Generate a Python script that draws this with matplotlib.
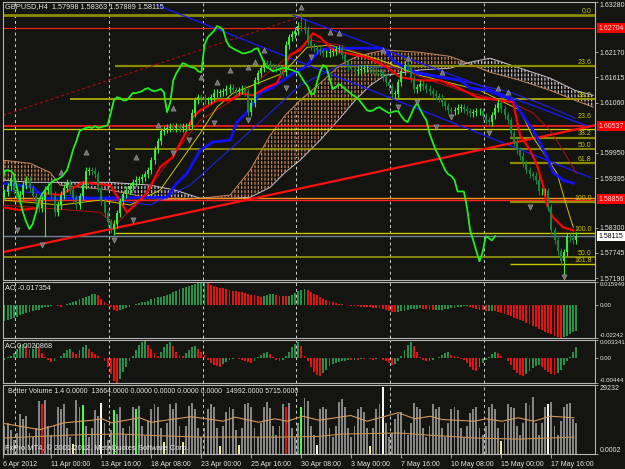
import numpy as np
import matplotlib
matplotlib.use("Agg")
import matplotlib.pyplot as plt
import matplotlib.transforms as mtransforms

plt.rcParams['font.family'] = ['Liberation Sans', 'DejaVu Sans']
plt.rcParams['hatch.linewidth'] = 0.9

# ---------------- data ----------------
title_text = "GBPUSD,H4  1.57998 1.58363 1.57889 1.58115"
first_open = 1.5902
wick = 0.0008
close = [
    1.5908, 1.5921, 1.5939, 1.5913, 1.5895, 1.5902, 1.5924, 1.5935, 1.5917, 1.5899,
    1.5884, 1.5873, 1.5891, 1.5913, 1.5921, 1.5902, 1.5864, 1.5880, 1.5902, 1.5917,
    1.5930, 1.5913, 1.5895, 1.5880, 1.5899, 1.5924,
    1.5955, 1.5957, 1.5955, 1.5948, 1.5917, 1.5888, 1.5862, 1.5842, 1.5827, 1.5838,
    1.5862, 1.5888, 1.5904, 1.5913, 1.5921, 1.5930, 1.5935, 1.5937, 1.5941, 1.5948,
    1.5957, 1.5979, 1.6003, 1.6021, 1.6043, 1.6047, 1.6050, 1.6052, 1.6050, 1.6054,
    1.6050, 1.6052, 1.6054, 1.6056, 1.6083, 1.6111, 1.6118, 1.6116, 1.6111, 1.6111,
    1.6118, 1.6127, 1.6127, 1.6129, 1.6131, 1.6136, 1.6138, 1.6133, 1.6131, 1.6133,
    1.6136, 1.6129, 1.6085, 1.6105, 1.6155, 1.6171, 1.6182, 1.6193, 1.6191, 1.6186,
    1.6184, 1.6182, 1.6175, 1.6173, 1.6233, 1.6250, 1.6257, 1.6264, 1.6275, 1.6272,
    1.6266, 1.6242, 1.6230, 1.6226, 1.6222, 1.6219, 1.6215, 1.6215, 1.6217, 1.6219,
    1.6224, 1.6226, 1.6211, 1.6195, 1.6184, 1.6180, 1.6175, 1.6178, 1.6180, 1.6182,
    1.6182, 1.6180, 1.6178, 1.6175, 1.6173, 1.6162, 1.6151, 1.6142, 1.6125, 1.6125,
    1.6151, 1.6175, 1.6189, 1.6184, 1.6160, 1.6136, 1.6140, 1.6147, 1.6142, 1.6136,
    1.6131, 1.6125, 1.6120, 1.6116, 1.6107, 1.6098, 1.6089, 1.6087, 1.6089, 1.6094,
    1.6096, 1.6091, 1.6087, 1.6083, 1.6085, 1.6087, 1.6087, 1.6076, 1.6067, 1.6063,
    1.6078, 1.6094, 1.6105, 1.6091, 1.6078, 1.6067, 1.6038, 1.6019, 1.6001, 1.5988,
    1.5972, 1.5957, 1.5948, 1.5944, 1.5935, 1.5910, 1.5910, 1.5910, 1.5875, 1.5824,
    1.5802, 1.5778, 1.5756, 1.5776, 1.5811, 1.5807, 1.5802, 1.58115,
]
high_extremes = {95: 1.6305, 96: 1.6290}
low_extremes = {13: 1.5809, 35: 1.5813, 179: 1.5722}
chikou_shift = 26

tenkan_i = [-0.5, 5, 10.4, 13.6, 17.8, 25.1, 33.8, 39.2, 45.6, 49.8, 53.9, 56.2, 58.4, 60.3, 62.6,
            68, 72.2, 75.4, 79.5, 84, 87.2, 91.4, 94.6, 98.7, 101, 105.1, 109.6, 116, 122.4, 126.6,
            133, 139.4, 144.8, 151.2, 158.6, 162.7, 165, 168.2, 170.4, 172.3, 173.6, 175.5, 178.7, 182]
tenkan_p = [1.5875, 1.5869, 1.5873, 1.5906, 1.5902, 1.5930, 1.5924, 1.5864, 1.5906, 1.5964, 1.5986,
            1.6016, 1.6045, 1.6074, 1.6089, 1.6111, 1.6111, 1.6127, 1.6122, 1.6140, 1.6149, 1.6211,
            1.6222, 1.6259, 1.6250, 1.6222, 1.6215, 1.6206, 1.6184, 1.6162, 1.6155, 1.6155, 1.6140,
            1.6118, 1.6111, 1.6107, 1.6034, 1.6001, 1.5968, 1.5924, 1.5880, 1.5853, 1.5831, 1.5824]
kijun_i = [-0.5, 9.1, 13, 25.1, 52, 54.6, 58.4, 62.6, 66.7, 72.2, 74.4, 77.6, 81.8, 85.9, 89.1, 92.3,
           96.2, 101, 105.1, 121.1, 125, 132, 145.8, 149, 154.4, 162.7, 169.1, 171.4, 173.6, 175.5,
           178.7, 182]
kijun_p = [1.5928, 1.5919, 1.5895, 1.5895, 1.5897, 1.5924, 1.5950, 1.6001, 1.6019, 1.6023, 1.6063,
           1.6085, 1.6127, 1.6140, 1.6155, 1.6171, 1.6184, 1.6222, 1.6226, 1.6226, 1.6195, 1.6171,
           1.6155, 1.6138, 1.6133, 1.6111, 1.6045, 1.6016, 1.5986, 1.5952, 1.5935, 1.5928]
ma_yellow_i = [-0.5, 17.8, 30.6, 40.2, 49.8, 62.6, 68, 73.1, 89.1, 96.8, 104.2, 120.2, 133, 152.2,
               165, 169.1, 176.8, 180, 182]
ma_yellow_p = [1.5891, 1.5880, 1.5891, 1.5880, 1.5913, 1.6038, 1.6096, 1.6127, 1.6171, 1.6228,
               1.6233, 1.6200, 1.6166, 1.6133, 1.6089, 1.6030, 1.5950, 1.5875, 1.5831]
ma_maroon_i = [-0.5, 30.6, 35.4, 43.4, 55.2, 62.6, 75.4, 91.4, 97.8, 107.4, 126.6, 145.8, 162.7,
               169.1, 174.6, 178.7, 183]
ma_maroon_p = [1.5880, 1.5864, 1.5835, 1.5891, 1.6001, 1.6067, 1.6122, 1.6211, 1.6244, 1.6233,
               1.6178, 1.6133, 1.6105, 1.6083, 1.6045, 1.6001, 1.5950]
ma_blue_i = [-0.5, 30.6, 46.6, 59.4, 75.4, 94.6, 107.4, 126.6, 145.8, 161.8, 173, 182.6]
ma_blue_p = [1.5913, 1.5895, 1.5880, 1.5924, 1.6023, 1.6144, 1.6189, 1.6182, 1.6155, 1.6129,
             1.6100, 1.6072]

cloud_i = [-0.5, 8.2, 14.6, 17.8, 33.8, 46.6, 54.6, 62.6, 72.2, 78.6, 85, 89.8, 94.6, 101, 107.4,
           112.2, 117, 121.8, 133, 142.6, 149, 155.4, 165, 174.6, 182.6, 188.4]
span_a = [1.5979, 1.5972, 1.5952, 1.5924, 1.5913, 1.5895, 1.5891, 1.5895, 1.5902, 1.5957, 1.6034,
          1.6078, 1.6111, 1.6149, 1.6189, 1.6206, 1.6215, 1.6222, 1.6217, 1.6208, 1.6191, 1.6173,
          1.6155, 1.6133, 1.6111, 1.6096]
span_b = [1.5935, 1.5930, 1.5930, 1.5930, 1.5930, 1.5924, 1.5913, 1.5895, 1.5895, 1.5897, 1.5919,
          1.5952, 1.5979, 1.6023, 1.6072, 1.6111, 1.6144, 1.6166, 1.6178, 1.6182, 1.6195, 1.6204,
          1.6182, 1.6160, 1.6133, 1.6122]

# straight trend lines: (i0, p0, i1, p1)
trend_blue_a = (92.3, 1.6299, 187.4, 1.6052)
trend_blue_b = (48.8, 1.6321, 187.4, 1.5941)
trend_red = (-0.5, 1.5776, 189.0, 1.6056)
trend_red_dash = (-0.5, 1.6078, 94.6, 1.6295)

# horizontal levels (price, first bar index)
level_price = [1.6299, 1.62704, 1.6186, 1.6113, 1.60537, 1.6047, 1.6028, 1.6003, 1.5972,
               1.5895, 1.5892, 1.5886, 1.5818, 1.58115, 1.5765, 1.5749]
level_start = [-0.5, -0.5, 35.4, 21, -0.5, -0.5, 161.8, 35.4, 161.8,
               -0.5, -0.5, 161.8, 35.4, -0.5, -0.5, 161.8]
fib_text = ["0.0", "23.6", "38.2", "23.6", "38.2", "50.0", "61.8", "100.0", "100.0", "50.0", "161.8"]
fib_text_price = [1.6299, 1.6186, 1.6113, 1.6067, 1.6028, 1.6003, 1.5972, 1.5886, 1.5818, 1.5765, 1.5749]

fractal_up_i = [95, 83, 80, 78, 72, 68, 63, 54, 49, 104, 107, 121, 129, 140, 146, 158, 161, 26, 18, 42]
fractal_up_p = [1.6317, 1.6222, 1.6195, 1.6184, 1.6178, 1.6151, 1.6162, 1.6094, 1.6056, 1.6261,
                1.6259, 1.6222, 1.6204, 1.6173, 1.6195, 1.6138, 1.6129, 1.5997, 1.5952, 1.5986]
fractal_dn_i = [98, 90, 78, 67, 143, 138, 155, 126, 132, 4, 12, 35, 41, 54, 59, 168, 179]
fractal_dn_p = [1.6206, 1.6138, 1.6067, 1.6060, 1.6074, 1.6052, 1.6038, 1.6096, 1.6107, 1.5824,
                1.5791, 1.5802, 1.5846, 1.5994, 1.6023, 1.5875, 1.5721]

price_ticks = [1.57190, 1.57745, 1.58300, 1.59395, 1.59950, 1.61060, 1.61615, 1.62170, 1.63280]
price_boxes = [(1.62704, "1.62704", "red"), (1.60537, "1.60537", "red"),
               (1.5893, "1.58856", "red"), (1.58115, "1.58115", "white")]

ao_e3 = [
    -10.5, -10, -9.5, -9, -8, -7, -6, -5, -4.5, -4, -3.5, -3, -2, -1.5, -1, -0.5, 0.3, -0.8, -1, 0,
    0.8, 1.5, 2.5, 3.2, 4, 4.8, 5.5, 6.5, 7.5, 7.8,
    6.8, 4.5, 2.5, 0.8, -1.5, -3, -3.6, -3.2, -2.5, -1.8, -1, 0,
    0.8, 1.5, 2, 2.5, 3.2, 4, 4.8, 5.5, 6, 6.5, 7, 8, 9, 10, 11, 11.8, 12.5, 13.2, 13.8, 14.4,
    15, 15.5, 15.949,
    15, 14.2, 13.2, 12.6, 12, 11.5, 11, 10.5, 10, 9.6, 9.2,
    8.8, 8.3, 7.8, 7.3, 6.8, 6.3, 5.9, 6.5, 7.2, 7.8, 8, 7.2, 6.6, 6.2, 6.1, 6.5, 7.3, 8.5, 9.8,
    10.8, 11.3,
    10.5, 9.2, 8, 6.8, 5.5, 4.4, 3.4, 2.6, 2, 1.5, 1, 0.6,
    0.3, 0, -0.3, -0.5, -0.7, -0.9, -1.1, -1.3, -1.5, -1.7, -1.9, -2.1, -2.6, -3.2, -4,
    -4.4, -4.6, -4.3, -4, -3.6, -3.2, -2.8, -2.5, -2.4, -2.2, -2.5, -2.8, -3.2, -3.5, -3.3, -3.1,
    -3, -2.8, -2.5, -2.1, -1.7, -1.3, -0.9, -0.5, -0.4, -0.9, -1.6,
    -2.5, -3, -3.5, -4, -3.8, -3.6, -3.8, -4.3, -5, -5.8, -6.6, -7.5, -8.4, -9.3, -10.2, -11.1,
    -12, -13, -14, -15, -16, -17, -18, -19, -20, -21, -21.8, -22.42, -22, -21, -19.8, -18.6, -17.354,
]
ac_e4 = [
    -2, 3, 5,
    10, 18, 24, 27, 22, 15, 18, 25, 20, 10,
    3, -3, -6, -4, 0,
    5, 10, 15, 18, 12, 8, 15, 20, 24, 18, 12, 8,
    5, 0, -4,
    -15, -28, -40, -44.4, -38, -25, -15,
    -5, 5, 15, 25,
    30, 33.41, 25, 18, 10, 5,
    12, 20, 26, 30, 22, 12, 6,
    4, 10, 15, 20, 22, 18, 12, 6,
    -3, -8, -12, -14, -15, -10, -6, -3, -1, 0, -1,
    -2, -4, -6, -8, -4, 2, 6, 10, 12, 8, 3, -2, -5,
    -3, 5, 12, 20, 26, 30, 22,
    5, -5, -15, -25, -30, -32, -26, -20, -14, -10, -8, -6, -5,
    -4, -3, -3, -2, -2, -1, -1, 0, -1, -2, -1, 0, -2, -4,
    -8, -12, -10,
    -5, 5, 15, 24, 30, 22, 12,
    2, -3, -5, -4, -2, 0,
    3, 6, 9, 11, 7, 4, 2, -1, -3,
    -8, -15, -20, -22, -15, -8, -3,
    3, 8, 11, 9, 5, 1,
    -5, -12, -20, -26, -30, -32, -28, -22, -18, -14, -12, -15, -20, -25, -28, -30, -27, -20, -12,
    -5, 3, 12, 20.868,
]
ao_range = (-0.02242, 0.015949)
ac_range = (-0.00444, 0.003341)
ao_label = "AO -0.017354"
ac_label = "AC 0.0020868"

vol_h = [
    120, 130, 100, 60, 90, 170, 150, 160, 90, 70,
    110, 225, 210, 230, 120, 80, 120, 200, 190, 210,
    110, 70, 44, 230, 200, 208, 120, 70, 110, 185,
    160, 217, 130, 60, 100, 186, 170, 200, 110, 80,
    120, 200, 190, 205, 120, 75, 140, 190, 210, 200,
    110, 49, 130, 210, 190, 215, 120, 49, 120, 205,
    215, 190, 110, 70, 110, 190, 210, 200, 110, 35,
    120, 180, 200, 190, 100, 38, 110, 210, 215, 200,
    110, 70, 130, 200, 220, 195, 120, 80, 120, 210,
    199, 215, 110, 70, 130, 199, 239, 225, 120, 80,
    40, 190, 200, 190, 110, 70, 120, 220, 235, 200,
    110, 70, 120, 190, 200, 180, 110, 35, 110, 190,
    210, 284, 130, 70, 90, 150, 170, 180, 100, 80,
    130, 215, 200, 190, 110, 70, 120, 210, 190, 200,
    110, 70, 130, 190, 200, 185, 110, 70, 120, 175,
    190, 200, 110, 80, 120, 200, 210, 190, 110, 55,
    130, 210, 200, 195, 120, 80, 130, 215, 209, 240,
    130, 80, 130, 200, 212, 220, 120, 80, 140, 200,
    210, 215, 150, 130,
]
vol_kind = {12: 'climax', 90: 'climax', 168: 'climax', 25: 'high', 35: 'high', 42: 'high',
            95: 'high', 31: 'churn', 121: 'churn', 174: 'churn', 100: 'churn',
            22: 'low', 51: 'low', 57: 'low', 69: 'low', 75: 'low', 117: 'low', 159: 'low'}
vol_max = 29232
vol_ma1_i = [-1.4, 3.7, 11.3, 19, 28, 31.2, 34.3, 43.2, 47, 59.7, 64.8, 70, 73.8, 81.4, 86.6, 90.4,
             95.5, 100.6, 110.8, 116, 126.1, 131.2, 136.3, 140.1, 150.3, 154.1, 159.2, 164.3,
             169.4, 174.6, 182.2]
vol_ma1_v = [13200, 12040, 10300, 13200, 14300, 14900, 13200, 15350, 13460, 15800, 14900, 13900,
             15600, 13460, 14900, 13900, 16000, 14300, 16300, 13900, 17500, 14900, 16000, 14600,
             13900, 14900, 13900, 15350, 13900, 16000, 15350]
vol_ma2_i = [-1.4, 11.3, 24.1, 36.8, 49.6, 62.3, 75.1, 87.8, 100.6, 108.2, 126.1, 138.8, 151.6,
             164.3, 182.2]
vol_ma2_v = [6740, 7450, 8170, 8460, 7740, 7160, 7160, 7160, 7450, 8460, 8890, 7740, 6740, 6310, 7160]
vol_label = ("Better Volume 1.4 0.0000  13664.0000 0.0000 0.0000 0.0000 0.0000  "
             "14992.0000 5715.0000")
copyright_text = "FxPro MT4, \u00a9 2001-2012, MetaQuotes Software Corp."

date_tick_i = [-0.45, 15, 31, 47, 63, 79, 95, 111, 127, 143, 159, 175]
date_labels = ['6 Apr 2012', '11 Apr 00:00', '13 Apr 16:00', '18 Apr 08:00', '23 Apr 00:00',
               '25 Apr 16:00', '30 Apr 08:00', '3 May 00:00', '7 May 16:00', '10 May 08:00',
               '15 May 00:00', '17 May 16:00']
week_sep_i = [3.4, 33.4, 63.4, 93.4, 123.4, 153.4]

# ---------------- style ----------------
BG = '#141410'
TXT = '#e6e6e6'
FRAME = '#b4b4b4'
UPC, DNC = '#33ee33', '#17843f'
SANDY, THISTLE = '#c8845a', '#c8bccc'
OLIVE, YEL = '#8c8c00', '#c8c800'
FS = 5.0
FS_SUB = 4.4
W, H = 625, 469
XL = (-0.48, 188.96)

fig = plt.figure(figsize=(W / 100, H / 100), dpi=100, facecolor=BG)


def axes_px(top, bottom, left=3, right=595, lsize=FS):
    a = fig.add_axes([left / W, 1 - bottom / H, (right - left) / W, (bottom - top) / H])
    a.set_facecolor(BG)
    a.set_xlim(*XL)
    for s in a.spines.values():
        s.set_color(FRAME)
        s.set_linewidth(0.8)
    a.tick_params(axis='x', bottom=False, labelbottom=False)
    a.yaxis.tick_right()
    a.tick_params(axis='y', length=2, width=0.6, color=FRAME, pad=1.2,
                  labelsize=lsize, labelcolor=TXT)
    for s in week_sep_i:
        a.axvline(s, color='#cfcfcf', lw=0.7, ls=(0, (3, 3)), zorder=0.5)
    return a


ax = axes_px(2, 280)
ax_ao = axes_px(282, 338, lsize=FS_SUB)
ax_ac = axes_px(340, 383, lsize=FS_SUB)
ax_v = axes_px(385, 454)

# ---------------- main panel ----------------
ax.set_ylim(1.57190 - 0.00044, 1.63280)
c = np.array(close)
x = np.arange(len(c))
o = np.r_[first_open, c[:-1]]
hi = np.maximum(o, c) + wick
lo = np.minimum(o, c) - wick
for k, v in high_extremes.items():
    hi[k] = v
for k, v in low_extremes.items():
    lo[k] = v
up = c >= o
ccol = np.where(up, UPC, DNC)

# Ichimoku cloud
ci = np.array(cloud_i)
sa = np.array(span_a)
sb = np.array(span_b)
ax.fill_between(ci, sa, sb, where=sa >= sb, interpolate=True, facecolor='none',
                edgecolor=SANDY, hatch='|||||', lw=0, zorder=1)
ax.fill_between(ci, sa, sb, where=sa < sb, interpolate=True, facecolor='none',
                edgecolor=THISTLE, hatch='|||||', lw=0, zorder=1)
ax.fill_between(ci, sa, sb, facecolor='none', edgecolor=BG, hatch='----', lw=0, zorder=1.1)
ax.plot(ci, sa, color=SANDY, lw=0.7, zorder=1.2)
ax.plot(ci, sb, color=THISTLE, lw=0.7, zorder=1.2)

# horizontal levels
lvl_style = [(OLIVE, 2.0), ('#ff2020', 0.8), (OLIVE, 1.6), ('#a0a000', 1.4), ('#ff2020', 1.2),
             ('#d8d000', 0.9), (OLIVE, 1.6), ('#a8a800', 1.1), (OLIVE, 1.6),
             ('#ff9020', 1.0), ('#ff2020', 1.0), (OLIVE, 1.6), (YEL, 1.0), ('#6f8090', 1.0),
             ('#9a9a10', 1.2), (YEL, 1.0)]
for p, s0, (col, lw) in zip(level_price, level_start, lvl_style):
    ax.hlines(p, s0, XL[1], colors=col, lw=lw, zorder=2)
for t, p in zip(fib_text, fib_text_price):
    ax.text(187.9, p + 0.00012, t, color=YEL, fontsize=FS, ha='right', va='bottom', zorder=7)

# trend lines
for (i0, p0, i1, p1), col, lw, ls in [
        (trend_blue_a, '#1a1aff', 0.9, '-'), (trend_blue_b, '#1a1aff', 0.9, '-'),
        (trend_red, '#ff1010', 1.6, '-'), (trend_red_dash, '#a01010', 0.8, (0, (3, 2)))]:
    ax.plot([i0, i1], [p0, p1], color=col, lw=lw, ls=ls, zorder=2.5)

# moving averages / ichimoku lines
ax.plot(ma_blue_i, ma_blue_p, color='#2323ff', lw=0.7, zorder=3)
ax.plot(ma_maroon_i, ma_maroon_p, color='#b01010', lw=0.7, zorder=3)
ax.plot(ma_yellow_i, ma_yellow_p, color='#c8c800', lw=0.7, zorder=3)
ax.plot(kijun_i, kijun_p, color='#1010ff', lw=2.0, zorder=3.2)
ax.plot(tenkan_i, tenkan_p, color='#ff0000', lw=1.6, zorder=3.3)

# candles
ax.vlines(x, lo, hi, colors=ccol, lw=0.8, zorder=4)
body = np.where(np.abs(c - o) < 0.00012, 0.00012, c - o)
ax.bar(x, body, bottom=o, width=0.62, color=ccol, lw=0, zorder=4)

# chikou span
ax.plot(x - chikou_shift, c, color='#1ef01e', lw=1.3, zorder=5)

# fractals
ax.scatter(fractal_up_i, fractal_up_p, marker='^', s=14, c='#6e6e6e', edgecolors='#a0a0a0',
           linewidths=0.4, zorder=6)
ax.scatter(fractal_dn_i, fractal_dn_p, marker='v', s=14, c='#6e6e6e', edgecolors='#a0a0a0',
           linewidths=0.4, zorder=6)

ax.set_yticks(price_ticks)
labs = ax.set_yticklabels([f"{t:.5f}" for t in price_ticks])
labs[-1].set_va('top')
trans = mtransforms.blended_transform_factory(ax.transAxes, ax.transData)
for p, t, kind in price_boxes:
    fc, tc = ('#ff0000', '#ffd8d8') if kind == 'red' else ('#ffffff', '#000000')
    ax.text(1.006, p, t, transform=trans, fontsize=FS, color=tc, va='center', ha='left',
            bbox=dict(boxstyle='square,pad=0.22', fc=fc, ec='none'), clip_on=False, zorder=8)
ax.text(0.003, 0.997, title_text, transform=ax.transAxes, color=TXT, fontsize=FS + 0.3,
        va='top', ha='left', zorder=9)

# ---------------- AO / AC ----------------
for a, vals, scale, rng, lab, ticklabs in [
        (ax_ao, ao_e3, 1e-3, ao_range, ao_label, ['-0.02242', '0.00', '0.015949']),
        (ax_ac, ac_e4, 1e-4, ac_range, ac_label, ['-0.00444', '0.00', '0.003341'])]:
    v = np.array(vals) * scale
    rising = np.r_[True, np.diff(v) > 0]
    cols = np.where(rising, '#26904a', '#e01414')
    a.bar(np.arange(len(v)), v, width=0.62, color=cols, lw=0, zorder=2)
    a.set_ylim(*rng)
    a.set_yticks([rng[0], 0, rng[1]])
    tl = a.set_yticklabels(ticklabs)
    tl[0].set_va('bottom')
    tl[2].set_va('top')
    a.text(0.004, 0.94, lab, transform=a.transAxes, color=TXT, fontsize=FS + 0.3,
           va='top', ha='left')

# ---------------- volume ----------------
vol = np.array(vol_h) * 100
kind_col = {'climax': '#e41010', 'high': '#44ff44', 'churn': '#f4f4f4', 'low': '#f0eca0'}
vcols = [kind_col.get(vol_kind.get(k, ''), '#858585') for k in range(len(vol))]
ax_v.bar(np.arange(len(vol)), vol, width=0.62, color=vcols, lw=0, zorder=2)
ax_v.plot(vol_ma1_i, vol_ma1_v, color='#d49a5a', lw=0.8, zorder=3)
ax_v.plot(vol_ma2_i, vol_ma2_v, color='#c8904e', lw=0.8, zorder=3)
ax_v.set_ylim(0, vol_max)
ax_v.set_yticks([0, vol_max])
tl = ax_v.set_yticklabels(['0.0002', '29232'])
tl[0].set_va('bottom')
tl[1].set_va('top')
ax_v.text(0.008, 0.95, vol_label, transform=ax_v.transAxes, color=TXT, fontsize=FS,
          va='top', ha='left', zorder=5)
ax_v.text(0.003, 0.03, copyright_text, transform=ax_v.transAxes, color=TXT, fontsize=FS + 0.4,
          va='bottom', ha='left', zorder=5)
ax_v.set_xticks(date_tick_i)
ax_v.set_xticklabels(date_labels, ha='left')
ax_v.tick_params(axis='x', bottom=True, labelbottom=True, length=3, width=0.6, color=FRAME,
                 labelsize=FS, labelcolor=TXT, pad=2)

fig.savefig('out.png', dpi=100, facecolor=BG)
